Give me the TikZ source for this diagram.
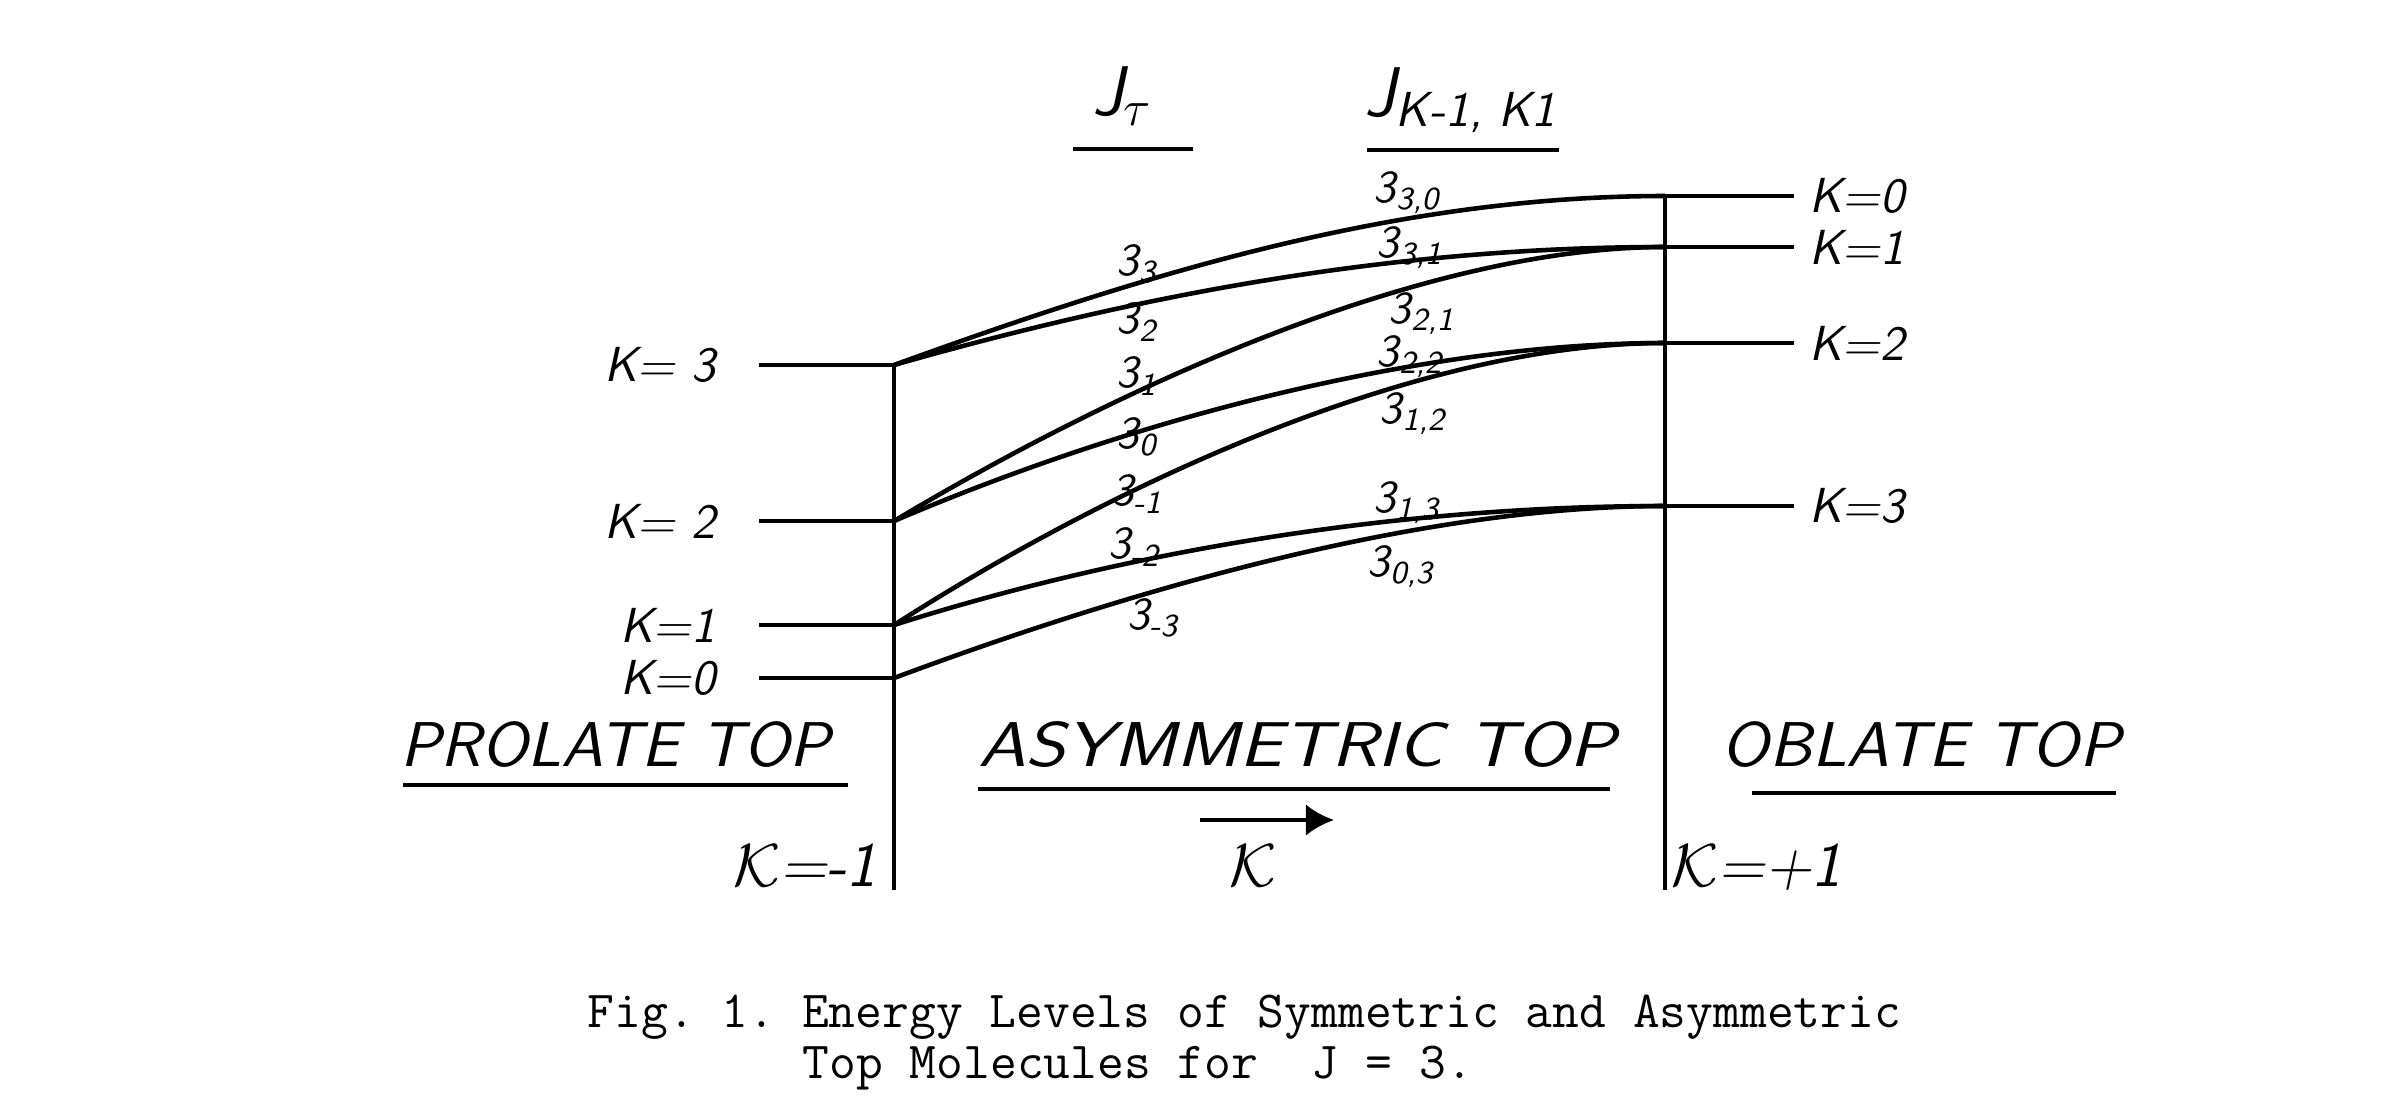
\documentclass[tikz,border=0pt]{standalone}
\usepackage{fontspec}
\usepackage{tikz}
\usetikzlibrary{positioning,arrows.meta}

\newcommand{\jl}[1]{3\textsubscript{#1}}
\newcommand{\widetxt}[2]{\scalebox{#1}[1]{#2}}

\begin{document}
\begin{tikzpicture}[
  x=0.01cm, y=-0.01cm,
  wall/.style={line width=1.2pt},
  lvl/.style={line width=1.4pt},
  corr/.style={line width=1.3pt},
  uline/.style={line width=1pt},
  kLabel/.style={font=\sffamily\itshape\fontsize{14}{16}\selectfont, inner sep=0pt},
  stateLabel/.style={font=\sffamily\itshape\fontsize{13}{15}\selectfont, inner sep=0pt},
  headLabel/.style={font=\sffamily\itshape\fontsize{20}{24}\selectfont, inner sep=0pt},
  typeLabel/.style={font=\sffamily\itshape\fontsize{18}{22}\selectfont, inner sep=0pt},
  kappaLabel/.style={font=\sffamily\itshape\fontsize{18}{22}\selectfont, inner sep=0pt},
  capLabel/.style={font=\ttfamily\fontsize{14.8}{17}\selectfont\frenchspacing, inner sep=0pt}
]
  \useasboundingbox (0,0) rectangle (2404,1106);

  % Prolate levels (left wall)
  \foreach \k/\y/\t in {3/365/{K= 3}, 2/521/{K= 2}, 1/625/{K=1}, 0/678/{K=0}} {
    \coordinate (p\k) at (894,\y);
    \coordinate (p\k s) at (759,\y);
    \draw[lvl] (p\k s) -- (p\k);
    \node[kLabel, left=0.43cm of p\k s] (pk\k) {\t};
  }

  % Oblate levels (right wall)
  \foreach \k/\y in {0/196, 1/247, 2/343, 3/506} {
    \coordinate (o\k) at (1665,\y);
    \coordinate (o\k s) at (1794,\y);
    \draw[lvl] (o\k) -- (o\k s);
    \node[kLabel, right=0.15cm of o\k s] (ok\k) {K=\k};
  }

  % Walls
  \coordinate (pb) at (894,890);
  \coordinate (ob) at (1665,890);
  \draw[wall] (p3) -- (pb);
  \draw[wall] (o0) -- (ob);

  % Correlation curves
  \draw[corr] (p3) .. controls (1150,272) and (1400,196) .. (o0);
  \draw[corr] (p3) .. controls (1150,292) and (1400,247) .. (o1);
  \draw[corr] (p2) .. controls (1130,380) and (1430,247) .. (o1);
  \draw[corr] (p2) .. controls (1130,420) and (1420,343) .. (o2);
  \draw[corr] (p1) .. controls (1120,480) and (1420,343) .. (o2);
  \draw[corr] (p1) .. controls (1130,550) and (1400,506) .. (o3);
  \draw[corr] (p0) .. controls (1130,590) and (1420,506) .. (o3);

  % J_tau labels
  \node[stateLabel] (t3)  at (1137,264) {\jl{3}};
  \node[stateLabel] (t2)  at (1137,322) {\jl{2}};
  \node[stateLabel] (t1)  at (1137,376) {\jl{1}};
  \node[stateLabel] (t0)  at (1137,437) {\jl{0}};
  \node[stateLabel] (tm1) at (1137,494) {\jl{-1}};
  \node[stateLabel] (tm2) at (1134,547) {\jl{-2}};
  \node[stateLabel] (tm3) at (1153,618) {\jl{-3}};

  % J_{K-1,K1} labels
  \node[stateLabel] (s30) at (1407,193) {\jl{3,0}};
  \node[stateLabel] (s31) at (1410,248) {\jl{3,1}};
  \node[stateLabel] (s21) at (1422,314) {\jl{2,1}};
  \node[stateLabel] (s22) at (1410,357) {\jl{2,2}};
  \node[stateLabel] (s12) at (1413,414) {\jl{1,2}};
  \node[stateLabel] (s13) at (1407,503) {\jl{1,3}};
  \node[stateLabel] (s03) at (1401,567) {\jl{0,3}};

  % Column heads
  \node[headLabel, anchor=base west] (jtau) at (1092,115) {J\textsubscript{$\tau$}};
  \node[headLabel, anchor=base west] (jkk) at (1364,116) {J\textsubscript{K-1, K1}};
  \draw[uline] (1073,149) -- (1193,149);
  \draw[uline] (1367,150) -- (1559,150);

  % Top types
  \node[typeLabel, anchor=base] (prol) at (615,766) {\widetxt{1.06}{PROLATE TOP}};
  \node[typeLabel, anchor=base] (asym) at (1297,766) {\widetxt{1.21}{ASYMMETRIC TOP}};
  \node[typeLabel, anchor=base] (obl) at (1921,766) {\widetxt{1.08}{OBLATE TOP}};
  \draw[uline] (403,785) -- (848,785);
  \draw[uline] (978,789) -- (1610,789);
  \draw[uline] (1752,793) -- (2116,793);

  % Asymmetry parameter
  \coordinate (a0) at (1200,820);
  \coordinate (a1) at (1334,820);
  \draw[line width=1.3pt, -{Latex[length=8pt,width=9pt]}] (a0) -- (a1);
  \node[kappaLabel, anchor=base east] (kl) at (877,886) {$\mathcal{K}$=-1};
  \node[kappaLabel, anchor=base] (km) at (1253,886) {$\mathcal{K}$};
  \node[kappaLabel, anchor=base west] (kr) at (1671,886) {$\mathcal{K}$=+1};

  % Caption
  \node[capLabel, anchor=base west] (cap1) at (587,1027)
    {Fig. 1. Energy Levels of Symmetric and Asymmetric};
  \node[capLabel, anchor=base west] (cap2) at (802,1078)
    {Top Molecules for\ \ J = 3.};
\end{tikzpicture}
\end{document}
